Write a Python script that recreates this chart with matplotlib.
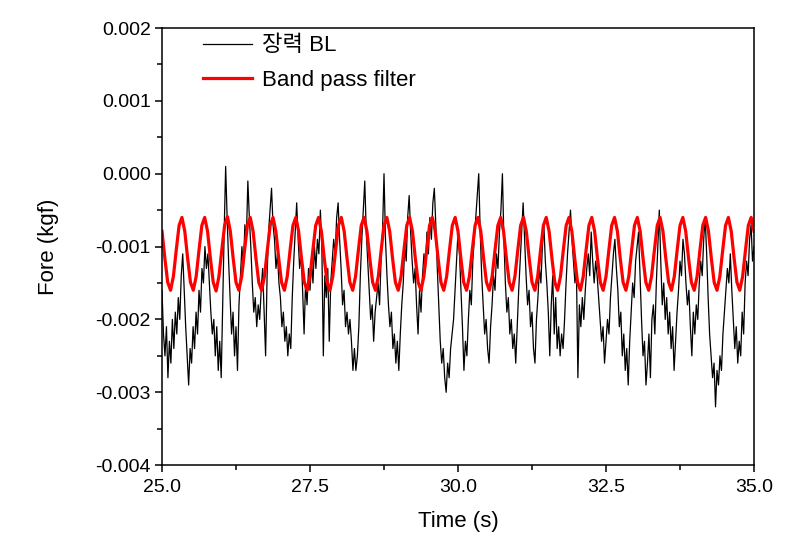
import numpy as np
import matplotlib
matplotlib.use("Agg")
import matplotlib.pyplot as plt
from matplotlib.ticker import MultipleLocator, FormatStrFormatter

plt.rcParams['font.family'] = ['Liberation Sans', 'Noto Sans CJK KR', 'DejaVu Sans']
plt.rcParams['axes.unicode_minus'] = False

# tension signal, every 0.025 s (units of 1e-4 kgf)
tension_bl = [
    -16, -22, -25, -21, -28, -23, -26, -20, -24, -19, -22, -17, -20, -14, -11, -16, -21, -25, -29, -24,
    -26, -21, -24, -19, -22, -16, -19, -13, -15, -10, -13, -11, -15, -19, -22, -20, -25, -21, -27, -23,
    -28, -18, -8, 1, -6, -12, -17, -22, -19, -25, -21, -27, -18, -14, -10, -13, -7, -9, -1, -6,
    -10, -15, -19, -17, -21, -18, -20, -16, -13, -19, -25, -14, -8, -5, -2, -7, -9, -13, -11, -15,
    -17, -21, -19, -23, -21, -25, -22, -24, -17, -12, -8, -4, -9, -13, -11, -16, -22, -15, -18, -13,
    -16, -12, -15, -10, -13, -9, -11, -5, -10, -25, -14, -17, -13, -23, -15, -12, -9, -11, -6, -4,
    -9, -13, -18, -16, -21, -19, -22, -20, -23, -27, -24, -27, -25, -21, -14, -9, -5, -1, -8, -12,
    -16, -20, -18, -23, -19, -17, -15, -18, -12, -8, 0, -9, -14, -18, -21, -19, -24, -22, -26, -23,
    -27, -22, -18, -15, -10, -12, -6, -3, -8, -12, -15, -13, -18, -22, -16, -19, -14, -11, -13, -8,
    -11, -6, -9, -4, -2, -7, -13, -18, -23, -26, -24, -28, -30, -26, -28, -24, -22, -20, -16, -12,
    -8, -11, -16, -21, -27, -23, -25, -20, -16, -18, -12, -9, -6, -3, 0, -8, -14, -18, -22, -20,
    -24, -26, -21, -18, -14, -16, -11, -13, -8, -5, 0, -9, -15, -19, -17, -22, -20, -24, -22, -26,
    -21, -16, -12, -8, -4, -9, -14, -18, -16, -21, -19, -24, -26, -20, -17, -13, -15, -10, -7, -12,
    -15, -19, -25, -18, -14, -22, -17, -24, -21, -25, -22, -24, -20, -15, -11, -8, -5, -9, -12, -15,
    -13, -28, -18, -21, -17, -20, -16, -13, -11, -14, -8, -12, -15, -12, -14, -17, -20, -23, -21, -26,
    -23, -20, -22, -17, -14, -11, -9, -13, -16, -21, -19, -25, -22, -27, -24, -29, -23, -19, -15, -17,
    -12, -10, -8, -14, -20, -25, -23, -29, -26, -22, -28, -20, -18, -22, -15, -10, -5, -12, -18, -15,
    -20, -17, -22, -19, -24, -21, -27, -23, -19, -16, -12, -14, -9, -11, -15, -18, -16, -21, -25, -19,
    -22, -18, -20, -15, -12, -14, -9, -6, -11, -17, -22, -25, -28, -26, -32, -27, -29, -25, -27, -22,
    -19, -16, -13, -15, -11, -16, -20, -24, -21, -26, -23, -25, -19, -22, -15, -12, -14, -9, -7, -12,
    -10,
]

# band pass filter output, 8 samples per cycle (units of 1e-4 kgf)
band_pass = [
    -7.9, -11.6, -14.9, -16.0, -14.1, -10.5, -7.1, -6.0,
    -7.9, -11.6, -14.9, -16.0, -14.1, -10.5, -7.1, -6.0,
    -7.9, -11.6, -14.9, -16.1, -14.1, -10.5, -7.1, -5.9,
    -7.9, -11.6, -14.9, -16.0, -14.1, -10.5, -7.1, -6.0,
    -7.9, -11.6, -14.9, -16.0, -14.1, -10.5, -7.1, -6.0,
    -7.9, -11.6, -14.9, -16.0, -14.1, -10.5, -7.1, -6.0,
    -7.9, -11.6, -14.9, -16.0, -14.1, -10.5, -7.1, -6.0,
    -7.9, -11.6, -14.9, -16.0, -14.1, -10.5, -7.1, -6.0,
    -7.9, -11.6, -14.9, -16.0, -14.1, -10.5, -7.1, -6.0,
    -7.9, -11.6, -14.9, -16.0, -14.1, -10.5, -7.1, -6.0,
    -7.9, -11.6, -14.9, -16.0, -14.1, -10.5, -7.1, -6.0,
    -7.9, -11.6, -14.9, -16.0, -14.1, -10.5, -7.1, -6.0,
    -7.9, -11.6, -14.9, -16.0, -14.1, -10.5, -7.1, -6.0,
    -7.9, -11.6, -14.9, -16.0, -14.1, -10.5, -7.1, -6.0,
    -7.9, -11.6, -14.9, -16.0, -14.1, -10.5, -7.1, -6.0,
    -7.9, -11.6, -14.9, -16.0, -14.1, -10.5, -7.1, -6.0,
    -7.9, -11.6, -14.9, -16.0, -14.1, -10.5, -7.1, -6.0,
    -7.9, -11.6, -14.9, -16.0, -14.1, -10.5, -7.1, -6.0,
    -7.9, -11.6, -14.9, -16.0, -14.1, -10.5, -7.1, -6.0,
    -7.9, -11.6, -14.9, -16.0, -14.1, -10.5, -7.1, -6.0,
    -7.9, -11.6, -14.9, -16.0, -14.1, -10.5, -7.1, -6.0,
    -7.9, -11.6, -14.9, -16.0, -14.1, -10.5, -7.1, -6.0,
    -7.9, -11.6, -14.9, -16.0, -14.1, -10.5, -7.1, -6.0,
    -7.9, -11.6, -14.9, -16.0, -14.1, -10.5, -7.1, -6.0,
    -7.9, -11.6, -14.9, -16.0, -14.1, -10.5, -7.1, -6.0,
    -7.9, -11.6, -14.9, -16.0, -14.1, -10.5, -7.1, -6.0,
    -7.9,
]

t_start, t_end = 25.0, 35.0
time_bl = np.linspace(t_start, t_end, len(tension_bl))
time_bp = np.linspace(t_start, t_end, len(band_pass))

fig = plt.figure(figsize=(8.06, 5.44), dpi=100)
ax = fig.add_axes([0.201, 0.145, 0.7345, 0.8035])

ax.plot(time_bl, np.array(tension_bl) * 1e-4, color='black', lw=0.9, label='장력 BL')
ax.plot(time_bp, np.array(band_pass) * 1e-4, color='#ff0000', lw=2.3, label='Band pass filter')

ax.set_xlim(25, 35)
ax.set_ylim(-0.004, 0.002)
ax.xaxis.set_major_locator(MultipleLocator(2.5))
ax.xaxis.set_minor_locator(MultipleLocator(1.25))
ax.yaxis.set_major_locator(MultipleLocator(0.001))
ax.yaxis.set_minor_locator(MultipleLocator(0.0005))
ax.xaxis.set_major_formatter(FormatStrFormatter('%.1f'))
ax.yaxis.set_major_formatter(FormatStrFormatter('%.3f'))
ax.tick_params(which='major', direction='out', length=5, width=1.1)
ax.tick_params(which='minor', direction='out', length=3.5, width=1.1)
ax.tick_params(axis='x', labelsize=14, pad=5)
ax.tick_params(axis='y', labelsize=14, pad=3)
for s in ax.spines.values():
    s.set_linewidth(1.1)

ax.set_xlabel('Time (s)', fontsize=16, labelpad=11)
ax.set_ylabel('Fore (kgf)', fontsize=16, labelpad=26)

ax.legend(loc='upper left', bbox_to_anchor=(0.069, 0.983), frameon=False, fontsize=16,
          handlelength=2.2, handletextpad=0.45, labelspacing=0.6, borderpad=0, borderaxespad=0)

fig.savefig('out.png', dpi=100)
